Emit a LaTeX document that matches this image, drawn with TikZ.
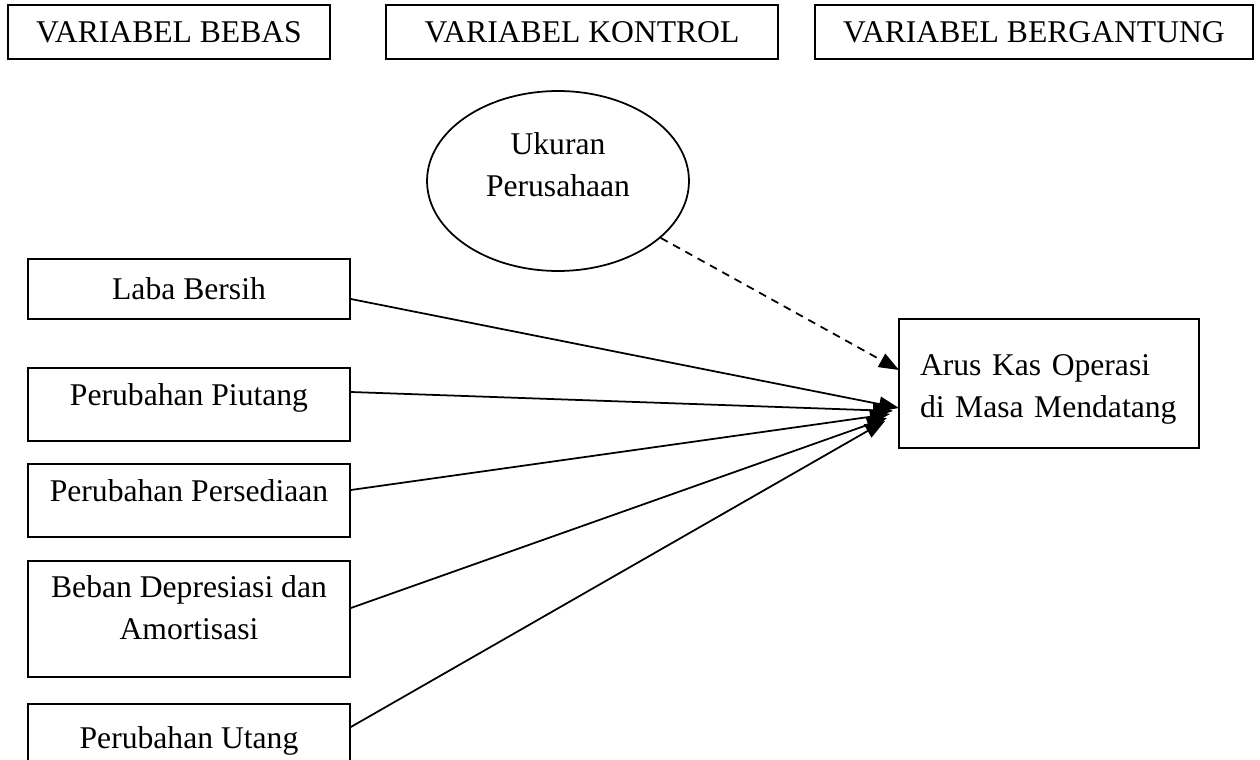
\documentclass[tikz,border=0pt]{standalone}
\usepackage{fontspec}
\setmainfont{Liberation Serif}
\usetikzlibrary{arrows.meta,shapes.geometric}

\begin{document}
\begin{tikzpicture}[x=0.02cm, y=-0.02cm, >={Triangle[length=0.4cm,width=0.3cm]},
  every node/.style={font=\fontsize{18}{24}\selectfont},
  varbox/.style={draw, line width=1pt, minimum height=1.08cm, inner sep=0pt},
  ivbox/.style={draw, line width=1pt, minimum width=6.44cm, inner sep=0pt},
  textup/.style={text depth=0.38cm},
  link/.style={->, line width=1pt}]
 \clip (0,0) rectangle (1260,760);
 % header
 \node [varbox, minimum width=6.44cm] (bebas) at (169,32) {VARIABEL BEBAS};
 \node [varbox, minimum width=7.84cm] (kontrol) at (582,32) {VARIABEL KONTROL};
 \node [varbox, minimum width=8.76cm] (gantung) at (1034,32) {VARIABEL BERGANTUNG};
 % control variable
 \node [ellipse, draw, line width=1pt, minimum width=5.24cm, minimum height=3.6cm,
        align=center, text depth=0.65cm] (ukuran) at (558,181) {Ukuran\\Perusahaan};
 % independent variables
 \node [ivbox, minimum height=1.2cm] (laba) at (189,289) {Laba Bersih};
 \node [ivbox, textup, minimum height=1.46cm] (piutang) at (189,404.5) {Perubahan Piutang};
 \node [ivbox, textup, minimum height=1.46cm] (sedia) at (189,500.5) {Perubahan Persediaan};
 \node [ivbox, minimum height=2.32cm, align=center, text depth=0.45cm] (beban) at (189,619)
       {Beban Depresiasi dan\\Amortisasi};
 \node [ivbox, minimum height=1.46cm] (utang) at (189,740.5) {Perubahan Utang};
 % dependent variable
 \node [draw, line width=1pt, minimum height=2.58cm, align=left, text width=5.16cm,
        inner xsep=0.42cm, text depth=0.75cm] (arus) at (1049,383.5)
       {Arus Kas Operasi\\di Masa Mendatang};
 % arrow tips
 \coordinate (tdash) at (899,370);
 \coordinate (tlaba) at (899,408);
 \coordinate (tpiutang) at (893,411);
 \coordinate (tsedia) at (890,414);
 \coordinate (tbeban) at (887,418);
 \coordinate (tutang) at (885,421);
 \draw [link, dash pattern=on 4.5pt off 3.5pt] (ukuran) -- (tdash);
 \draw [link] ([yshift=-0.2cm]laba.east) -- (tlaba);
 \draw [link] ([yshift=0.25cm]piutang.east) -- (tpiutang);
 \draw [link] ([yshift=0.21cm]sedia.east) -- (tsedia);
 \draw [link] ([yshift=0.22cm]beban.east) -- (tbeban);
 \draw [link] ([yshift=0.27cm]utang.east) -- (tutang);
\end{tikzpicture}
\end{document}
